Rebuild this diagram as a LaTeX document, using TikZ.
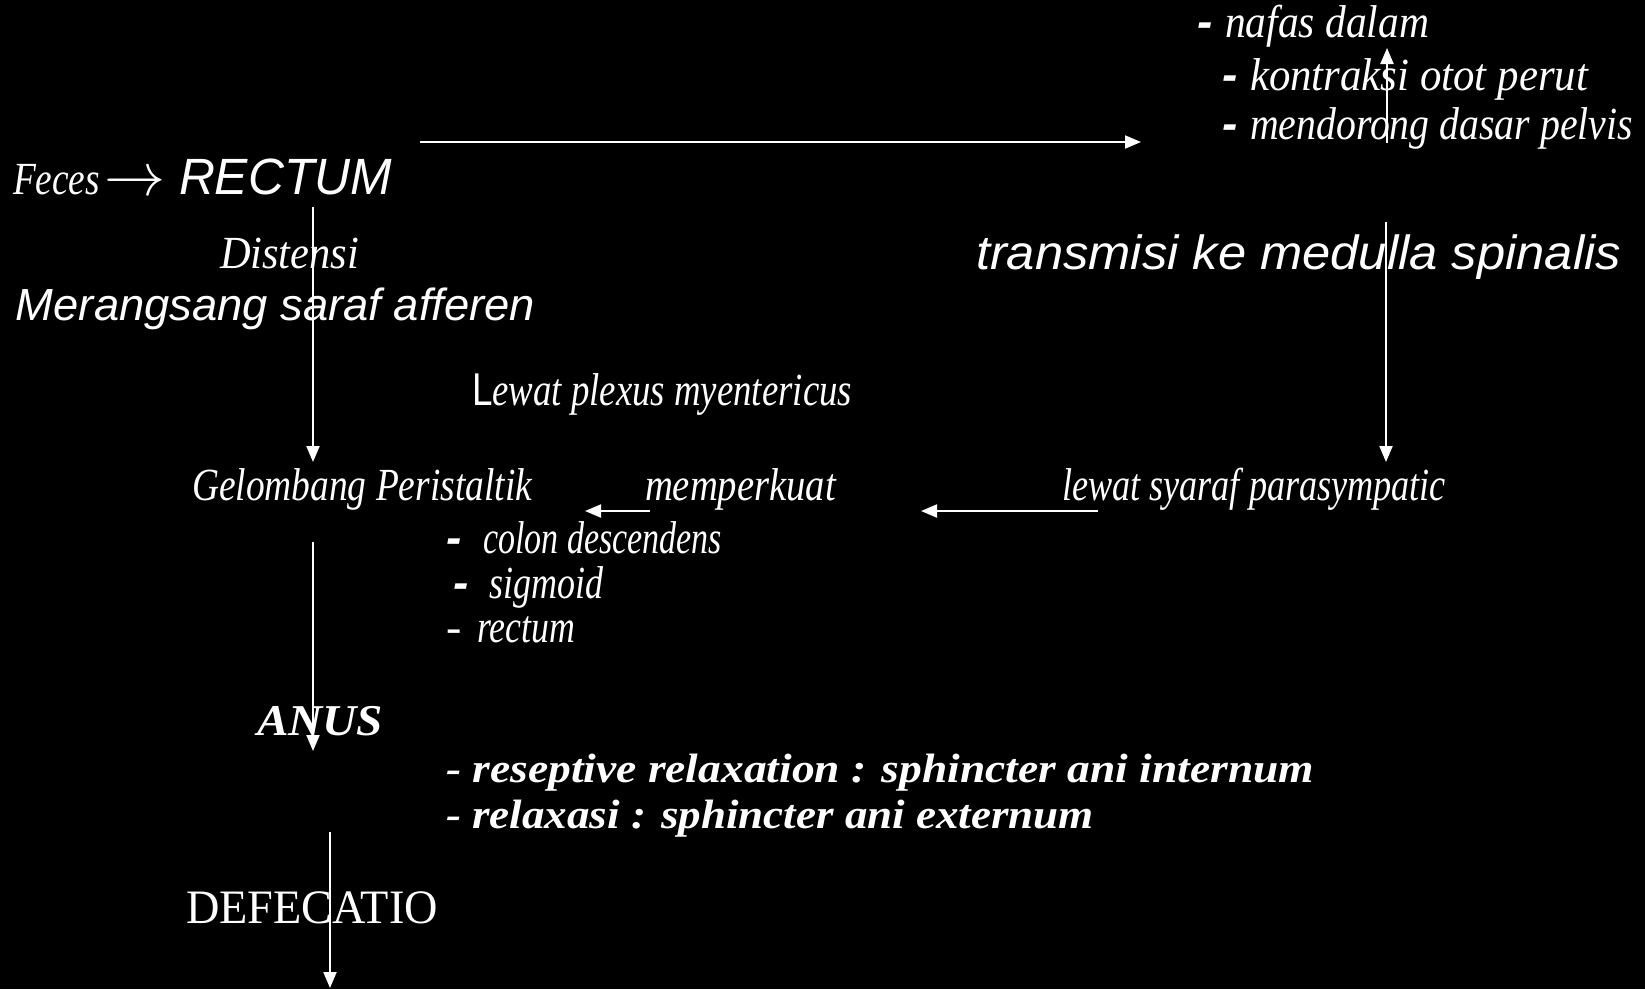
\documentclass[tikz,border=0pt]{standalone}
\usepackage{fontspec}
\usetikzlibrary{arrows.meta}
\setmainfont{Liberation Serif}
\newfontfamily\gar{Liberation Serif}
\newfontfamily\ari{Liberation Sans}
\newcommand\fitw[2]{\setbox0\hbox{#2}\pgfmathsetmacro\sxf{#1/\the\wd0}\scalebox{\sxf}[1]{\box0}}
\newcommand\gi[1]{\fontsize{#1}{#1}\selectfont\gar\itshape}
\newcommand\gbi[1]{\fontsize{#1}{#1}\selectfont\gar\bfseries\itshape}
\newcommand\gu[1]{\fontsize{#1}{#1}\selectfont\gar\upshape}
\newcommand\ai[1]{\fontsize{#1}{#1}\selectfont\ari\itshape}
\tikzset{
  txt/.style={anchor=base west, inner sep=0pt, outer sep=0pt, text=white},
  arr/.style={draw=white, line width=2pt, -{Triangle[width=13pt,length=16pt]}},
}
\begin{document}
\begin{tikzpicture}[x=1pt,y=-1pt]
\fill[black] (0,0) rectangle (1645,989);
\useasboundingbox (0,0) rectangle (1645,989);

% top right list
\node[txt, font=\gi{46}] (nafas) at (1197,37) {\makebox[28pt][l]{\ari\bfseries -}\fitw{204}{nafas dalam}};
\node[txt, font=\gi{46}] (kontraksi) at (1222,90) {\makebox[28pt][l]{\ari\bfseries -}\fitw{338}{kontraksi otot perut}};
\node[txt, font=\gi{46}] (mendorong) at (1222,139) {\makebox[28pt][l]{\ari\bfseries -}\fitw{383}{mendorong dasar pelvis}};

% Feces -> RECTUM
\node[txt, font=\gi{46}] (feces) at (13,194) {\fitw{87}{Feces}};
\node[txt] (feceslink) at (104,195) {\resizebox{61pt}{!}{$\rightarrow$}};
\node[txt, font=\ai{51}] (rectum) at (179,194) {\fitw{213}{RECTUM}};

\node[txt, font=\gi{46}] (distensi) at (220,268) {\fitw{139}{Distensi}};
\node[txt, font=\ai{48}] (transmisi) at (976,269) {\fitw{645}{transmisi ke medulla spinalis}};
\node[txt, font=\ai{45}] (merangsang) at (16,320) {\fitw{519}{Merangsang saraf afferen}};
\node[txt, font=\gi{46}] (lewatplexus) at (472,405) {\fitw{380}{{\ari\upshape L}ewat plexus myentericus}};

\node[txt, font=\gi{46}] (gelombang) at (192,500) {\fitw{340}{Gelombang Peristaltik}};
\node[txt, font=\gi{46}] (memperkuat) at (645,500) {\fitw{191}{memperkuat}};
\node[txt, font=\gi{46}] (parasym) at (1062,500) {\fitw{384}{lewat syaraf parasympatic}};

\node[txt, font=\gi{46}] (colon) at (446,553) {\makebox[37pt][l]{\ari\bfseries -}\fitw{239}{colon descendens}};
\node[txt, font=\gi{46}] (sigmoid) at (453,598) {\makebox[36pt][l]{\ari\bfseries -}\fitw{114}{sigmoid}};
\node[txt, font=\gi{46}] (rectumlist) at (446,642) {\makebox[31pt][l]{\upshape -}\fitw{98}{rectum}};

\node[txt, font=\gbi{44}] (anus) at (257,735) {\fitw{126}{ANUS}};
\node[txt, font=\gbi{41}] (reseptive) at (446,782) {\fitw{868}{- reseptive relaxation : sphincter ani internum}};
\node[txt, font=\gbi{41}] (relaxasi) at (446,828) {\fitw{648}{- relaxasi : sphincter ani externum}};

\node[txt, font=\gu{48}] (defecatio) at (186,923) {\fitw{252}{DEFECATIO}};

% connector end points
\coordinate (a1s) at (420,142);  \coordinate (a1e) at (1141,142);
\coordinate (a2s) at (1387,143); \coordinate (a2e) at (1387,48);
\coordinate (a3s) at (313,207);  \coordinate (a3e) at (313,462);
\coordinate (a4s) at (1386,222); \coordinate (a4e) at (1386,462);
\coordinate (a5s) at (650,511);  \coordinate (a5e) at (585,511);
\coordinate (a6s) at (1098,511); \coordinate (a6e) at (921,511);
\coordinate (a7s) at (313,542);  \coordinate (a7e) at (313,751);
\coordinate (a8s) at (330,832);  \coordinate (a8e) at (330,988);

\draw[arr] (a1s) -- (a1e);
\draw[arr] (a2s) -- (a2e);
\draw[arr] (a3s) -- (a3e);
\draw[arr] (a4s) -- (a4e);
\draw[arr] (a5s) -- (a5e);
\draw[arr] (a6s) -- (a6e);
\draw[arr] (a7s) -- (a7e);
\draw[arr] (a8s) -- (a8e);
\end{tikzpicture}
\end{document}
